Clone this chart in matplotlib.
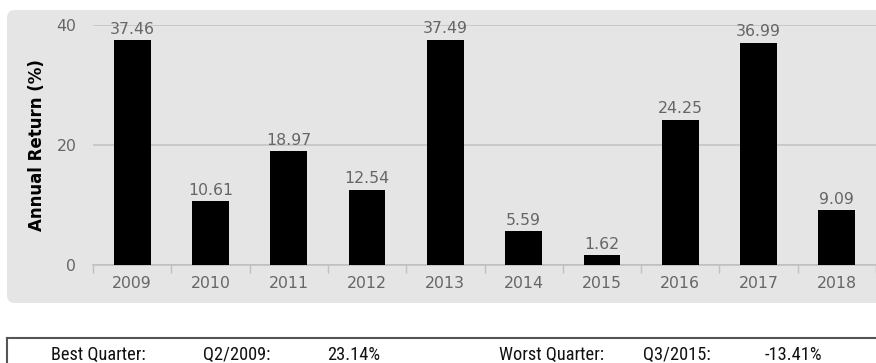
import matplotlib
matplotlib.use("Agg")
import matplotlib.pyplot as plt
from matplotlib.patches import FancyBboxPatch
from matplotlib.lines import Line2D
import numpy as np

years = ["2009", "2010", "2011", "2012", "2013", "2014", "2015", "2016", "2017", "2018"]
returns = [37.46, 10.61, 18.97, 12.54, 37.49, 5.59, 1.62, 24.25, 36.99, 9.09]
yticks = [0, 20, 40]
table_texts = ["Best Quarter:", "Q2/2009:", "23.14%", "Worst Quarter:", "Q3/2015:", "-13.41%"]

plt.rcParams["font.family"] = ["DejaVu Sans"]

W, H = 876, 363
fig = plt.figure(figsize=(W / 100, H / 100), dpi=100)

# grey rounded panel
panel = FancyBboxPatch((7 / W, 1 - 303 / H), (W + 20 - 7) / W, (303 - 10) / H,
                       boxstyle="round,pad=0,rounding_size=0.009",
                       transform=fig.transFigure, facecolor="#e5e5e5",
                       edgecolor="none", zorder=0, mutation_aspect=W / H)
fig.patches.append(panel)

ax = fig.add_axes([93 / W, 1 - 265 / H, 1 - 93 / W, (265 - 25) / H])
ax.set_zorder(2)
ax.set_facecolor("none")
x = np.arange(len(years))
bars = ax.bar(x, returns, width=0.47, color="black", zorder=3)
for xi, v in zip(x, returns):
    ax.text(xi, v + 0.6, f"{v:.2f}", ha="center", va="bottom",
            color="#666666", fontsize=11.3, clip_on=False, zorder=4)

ax.set_xlim(-0.5, len(years) - 0.5)
ax.set_ylim(0, 40)
ax.set_yticks(yticks)
ax.set_yticklabels([str(t) for t in yticks])
ax.set_xticks(x)
ax.set_xticklabels(years)
ax.set_xticks(np.arange(-0.5, len(years), 1.0), minor=True)
ax.tick_params(axis="x", which="major", length=0, pad=8, labelsize=11.3, labelcolor="#666666")
ax.tick_params(axis="x", which="minor", length=6, width=1, color="#c0c0c0", direction="out")
ax.tick_params(axis="y", length=0, pad=12, labelsize=11.3, labelcolor="#666666")
for s in ["top", "right", "left"]:
    ax.spines[s].set_visible(False)
ax.spines["bottom"].set_color("#c0c0c0")
ax.spines["bottom"].set_linewidth(1.2)
ax.grid(axis="y", color="#c4c4c4", linewidth=1.2, zorder=1)
ax.set_axisbelow(True)

fig.text(37 / W, 1 - 145 / H, "Annual Return (%)", rotation=90, ha="center", va="center",
         fontsize=12, fontweight="bold", color="black")

# table box
ty = 1 - 338 / H
fig.add_artist(Line2D([7 / W, 1.0], [ty, ty], transform=fig.transFigure,
                      color="#555555", linewidth=1.5))
fig.add_artist(Line2D([7 / W, 7 / W], [ty, 0], transform=fig.transFigure,
                      color="#555555", linewidth=1.5))
xs = [51, 203, 327, 499, 643, 765]
for xp, t in zip(xs, table_texts):
    fig.text(xp / W, 1 - 360 / H, t, ha="left", va="baseline",
             fontsize=13.2, family=["Roboto Condensed", "Liberation Sans"], color="#111111")

fig.savefig("out.png", dpi=100)
